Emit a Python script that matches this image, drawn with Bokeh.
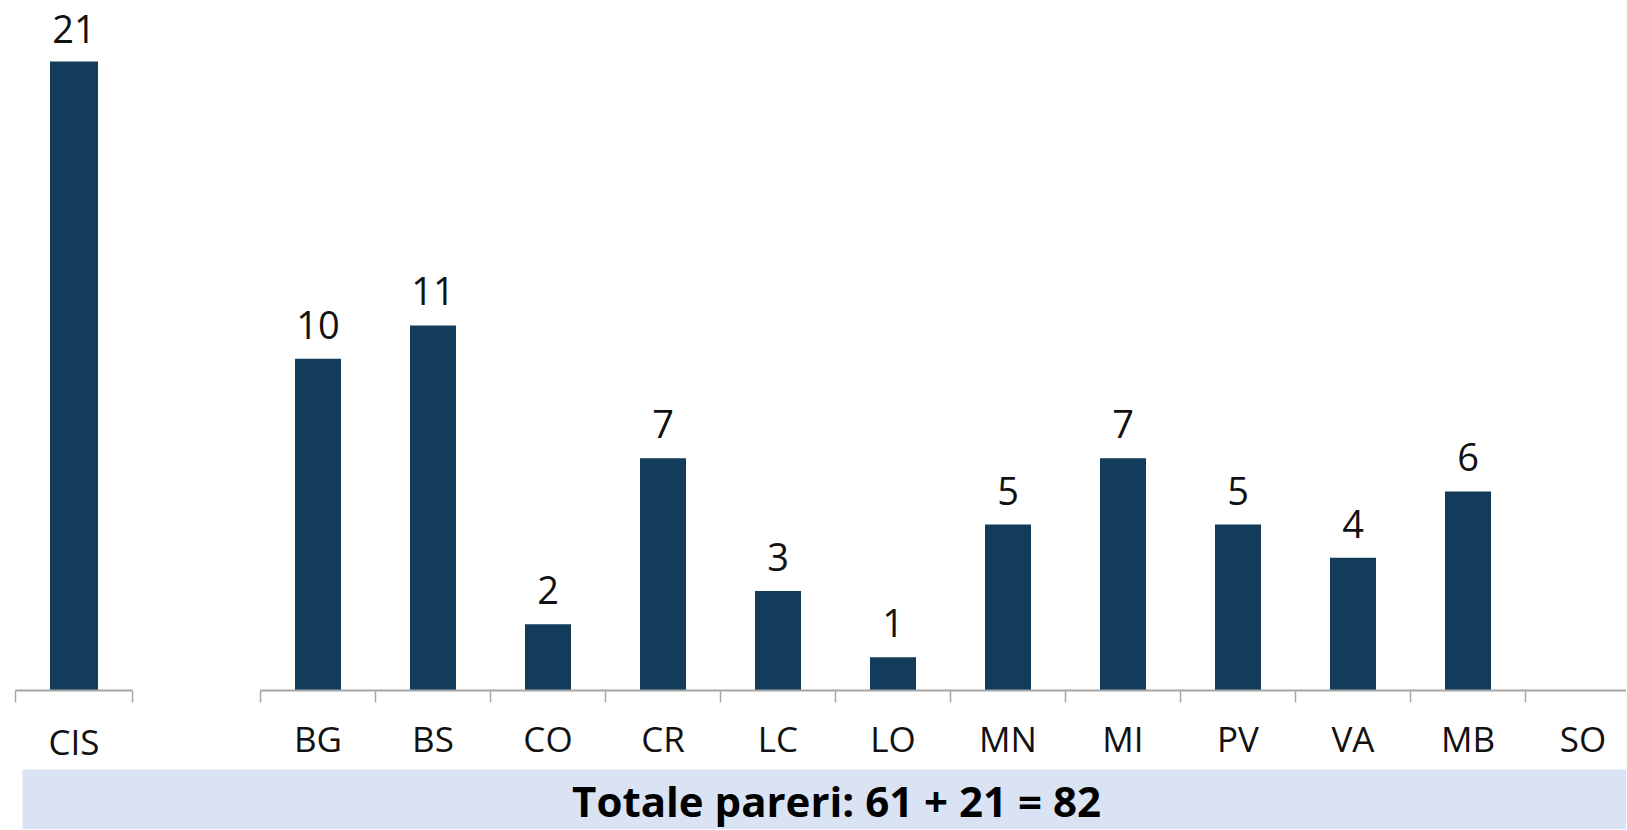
from bokeh.plotting import figure
from bokeh.models import ColumnDataSource, LabelSet, FixedTicker, Range1d
from bokeh.layouts import column, row
from bokeh.embed import file_html
from bokeh.resources import INLINE
from bokeh.core.properties import value

# ---- data ----
cis_label = ["CIS"]
cis_values = [21]
prov_labels = ["BG", "BS", "CO", "CR", "LC", "LO", "MN", "MI", "PV", "VA", "MB", "SO"]
prov_values = [10, 11, 2, 7, 3, 1, 5, 7, 5, 4, 6, 0]

BAR = "#133C5A"
AXIS = "#A6A6A6"
FONT = "Open Sans"


def make_bar_fig(labels, vals, fig_w, fig_h, b_left, b_right, b_top, b_bottom, x_end, y_end,
                 bar_w, standoff, lab_off):
    n = len(labels)
    centers = [i + 0.5 for i in range(n)]
    bounds = [float(i) for i in range(n + 1)]
    src = ColumnDataSource(dict(x=centers, v=vals))
    lab_src = ColumnDataSource(dict(
        x=[c for c, v in zip(centers, vals) if v > 0],
        v=[v for v in vals if v > 0],
        t=[str(v) for v in vals if v > 0]))
    p = figure(width=fig_w, height=fig_h, output_backend="svg", toolbar_location=None,
               x_range=Range1d(0, x_end), y_range=Range1d(0, y_end),
               min_border_left=b_left, min_border_right=b_right,
               min_border_top=b_top, min_border_bottom=b_bottom)
    p.vbar(x="x", top="v", width=bar_w, source=src, fill_color=BAR, line_color=None)
    p.add_layout(LabelSet(x="x", y="v", text="t", source=lab_src, y_offset=lab_off,
                          text_align="center", text_baseline="alphabetic",
                          text_font=value(FONT), text_font_size=value("38px"),
                          text_color="#111111"))
    p.yaxis.visible = False
    p.grid.visible = False
    p.outline_line_color = None
    ax = p.xaxis[0]
    ax.ticker = FixedTicker(ticks=centers, minor_ticks=bounds)
    ax.major_label_overrides = {c: l for c, l in zip(centers, labels)}
    ax.major_tick_line_color = None
    ax.major_tick_out = 0
    ax.major_tick_in = 0
    ax.minor_tick_out = 12
    ax.minor_tick_in = 0
    ax.minor_tick_line_color = AXIS
    ax.minor_tick_line_width = 1.5
    ax.axis_line_color = AXIS
    ax.axis_line_width = 2
    ax.major_label_text_font = FONT
    ax.major_label_text_font_size = "35px"
    ax.major_label_text_color = "#111111"
    ax.major_label_standoff = standoff
    return p


left = make_bar_fig(cis_label, cis_values, fig_w=208, fig_h=769, b_left=15, b_right=76,
                    b_top=8, b_bottom=79, x_end=1.0, y_end=682 / 29.95, bar_w=0.41,
                    standoff=15, lab_off=19)
right = make_bar_fig(prov_labels, prov_values, fig_w=1418, fig_h=769, b_left=52, b_right=0,
                     b_top=8, b_bottom=75, x_end=1366 / 115, y_end=686 / 33.38, bar_w=0.40,
                     standoff=12, lab_off=20)

total_prov = sum(prov_values)
total_cis = sum(cis_values)
title_text = f"Totale pareri: {total_prov} + {total_cis} = {total_prov + total_cis}"

banner = figure(width=1626, height=60, output_backend="svg", toolbar_location=None,
                x_range=Range1d(0, 1604), y_range=Range1d(0, 60),
                min_border_left=22, min_border_right=0, min_border_top=0, min_border_bottom=0,
                background_fill_color="#DAE3F3", border_fill_color="white")
banner.axis.visible = False
banner.grid.visible = False
banner.outline_line_color = None
banner.text(x=[814], y=[29], text=[title_text], text_align="center",
            text_baseline="middle", text_font=value(FONT),
            text_font_style="bold", text_font_size=value("42px"),
            text_color="#000000")

layout = column(row(left, right, spacing=0), banner, spacing=0)
open("out.html", "w").write(file_html(layout, INLINE))
